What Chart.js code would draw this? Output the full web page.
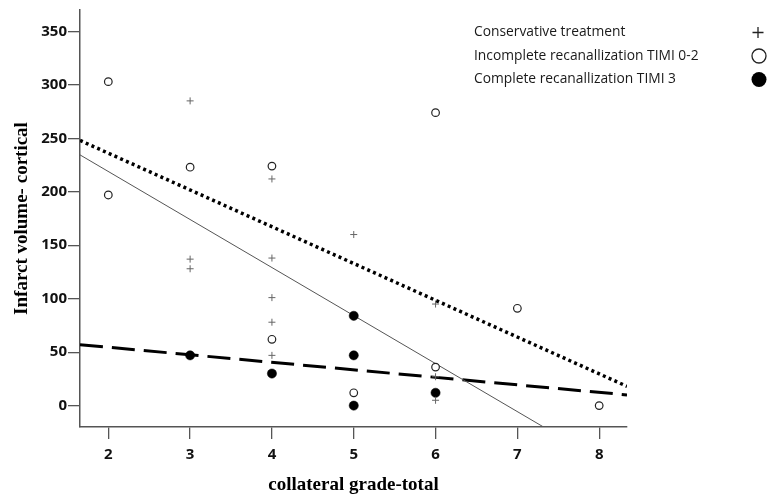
<!DOCTYPE html>
<html>
<head>
<meta charset="utf-8">
<script src="https://cdn.jsdelivr.net/npm/chart.js@4/dist/chart.umd.min.js"></script>
<style>
  body { margin: 0; background: #fff; }
  #wrap { width: 767px; height: 497px; }
</style>
</head>
<body>
<div id="wrap"><canvas id="chart" width="767" height="497"></canvas></div>
<script>
// tick labels
const xTicks = [2, 3, 4, 5, 6, 7, 8];
const yTicks = [0, 50, 100, 150, 200, 250, 300, 350];

// group names (legend)
const groupNames = ['Conservative treatment', 'Incomplete recanallization TIMI 0-2', 'Complete recanallization TIMI 3'];

// conservative treatment (+)
const consX = [3, 3, 3, 4, 4, 4, 4, 4, 5, 6, 6, 6];
const consY = [285, 137, 128, 212, 138, 101, 78, 47, 160, 95, 27, 5];

// incomplete recanalization (open circles)
const incX = [2, 2, 3, 4, 4, 5, 6, 6, 7, 8];
const incY = [303, 197, 223, 224, 62, 12, 274, 36, 91, 0];

// complete recanalization (filled circles)
const compX = [3, 4, 5, 5, 5, 6];
const compY = [47, 30, 84, 47, 0, 12];

// fit lines: [x0, x1], [y0, y1]
const fitDotX = [1.654, 8.34];
const fitDotY = [248, 18];
const fitSolidX = [1.654, 7.32];
const fitSolidY = [234.5, -20];
const fitDashX = [1.654, 8.34];
const fitDashY = [57, 10];

const toPts = (xs, ys) => xs.map((x, i) => ({ x: x, y: ys[i] }));

// legend drawn top right: text on the left, marker on the right
const legendPlugin = {
    id: 'rightLegend',
    afterDraw(chart) {
        const ctx = chart.ctx;
        ctx.save();
        ctx.font = '13.8px "Open Sans", sans-serif';
        ctx.fillStyle = '#1a1a1a';
        ctx.textBaseline = 'middle';
        const rows = [32.5, 56, 79.5];
        groupNames.forEach((name, i) => {
            ctx.fillText(name, 474, rows[i]);
        });
        ctx.strokeStyle = '#222';
        ctx.lineWidth = 1.3;
        // plus
        ctx.beginPath();
        ctx.moveTo(752.5, rows[0]); ctx.lineTo(763.5, rows[0]);
        ctx.moveTo(758, rows[0] - 5.5); ctx.lineTo(758, rows[0] + 5.5);
        ctx.stroke();
        // open circle
        ctx.beginPath();
        ctx.arc(759, rows[1], 7, 0, Math.PI * 2);
        ctx.stroke();
        // filled circle
        ctx.beginPath();
        ctx.arc(759, rows[2], 7.5, 0, Math.PI * 2);
        ctx.fillStyle = '#000';
        ctx.fill();
        ctx.restore();
    }
};

const tickFont = { family: '"Open Sans", sans-serif', size: 15, weight: 'bold' };
const titleFont = { family: '"Liberation Serif", serif', size: 19, weight: 'bold' };

const ctx = document.getElementById('chart').getContext('2d');
const chart = new Chart(ctx, {
    type: 'scatter',
    data: {
        datasets: [
            {
                label: groupNames[0],
                data: toPts(consX, consY),
                pointStyle: 'cross',
                pointRadius: 3.5,
                borderColor: '#666',
                borderWidth: 1,
                backgroundColor: '#666'
            },
            {
                label: groupNames[1],
                data: toPts(incX, incY),
                pointStyle: 'circle',
                pointRadius: 3.8,
                borderColor: '#222',
                borderWidth: 1.2,
                backgroundColor: '#fff'
            },
            {
                label: groupNames[2],
                data: toPts(compX, compY),
                pointStyle: 'circle',
                pointRadius: 4.6,
                borderColor: '#000',
                borderWidth: 0.5,
                backgroundColor: '#000'
            },
            {
                label: 'fit dotted',
                data: toPts(fitDotX, fitDotY),
                showLine: true,
                pointRadius: 0,
                borderColor: '#000',
                borderWidth: 3.5,
                borderDash: [3, 3.3]
            },
            {
                label: 'fit solid',
                data: toPts(fitSolidX, fitSolidY),
                showLine: true,
                pointRadius: 0,
                borderColor: '#555',
                borderWidth: 1
            },
            {
                label: 'fit dashed',
                data: toPts(fitDashX, fitDashY),
                showLine: true,
                pointRadius: 0,
                borderColor: '#000',
                borderWidth: 3,
                borderDash: [23, 9]
            }
        ]
    },
    options: {
        responsive: false,
        animation: false,
        layout: { padding: { left: 0, right: 140, top: 8, bottom: 0 } },
        plugins: {
            legend: { display: false },
            tooltip: { enabled: false }
        },
        scales: {
            x: {
                type: 'linear',
                min: 1.654,
                max: 8.34,
                afterBuildTicks: (scale) => { scale.ticks = xTicks.map(v => ({ value: v })); },
                afterFit: (scale) => { scale.height = 70; },
                grid: { drawOnChartArea: false, drawTicks: true, tickLength: 12, color: '#555', lineWidth: 1.3 },
                border: { display: true, color: '#555', width: 1.5 },
                ticks: { padding: 7, color: '#111', font: tickFont },
                title: {
                    display: true,
                    text: 'collateral grade-total',
                    color: '#000',
                    padding: { top: 0, bottom: 1 },
                    font: titleFont
                }
            },
            y: {
                type: 'linear',
                min: -20,
                max: 370,
                afterBuildTicks: (scale) => { scale.ticks = yTicks.map(v => ({ value: v })); },
                afterFit: (scale) => { scale.width = 80; },
                grid: { drawOnChartArea: false, drawTicks: true, tickLength: 12, color: '#555', lineWidth: 1.3 },
                border: { display: true, color: '#555', width: 1.5 },
                ticks: { padding: 1, color: '#111', font: tickFont },
                title: {
                    display: true,
                    text: 'Infarct volume- cortical',
                    color: '#000',
                    padding: { top: 11, bottom: 0 },
                    font: titleFont
                }
            }
        }
    },
    plugins: [legendPlugin]
});
</script>
</body>
</html>
